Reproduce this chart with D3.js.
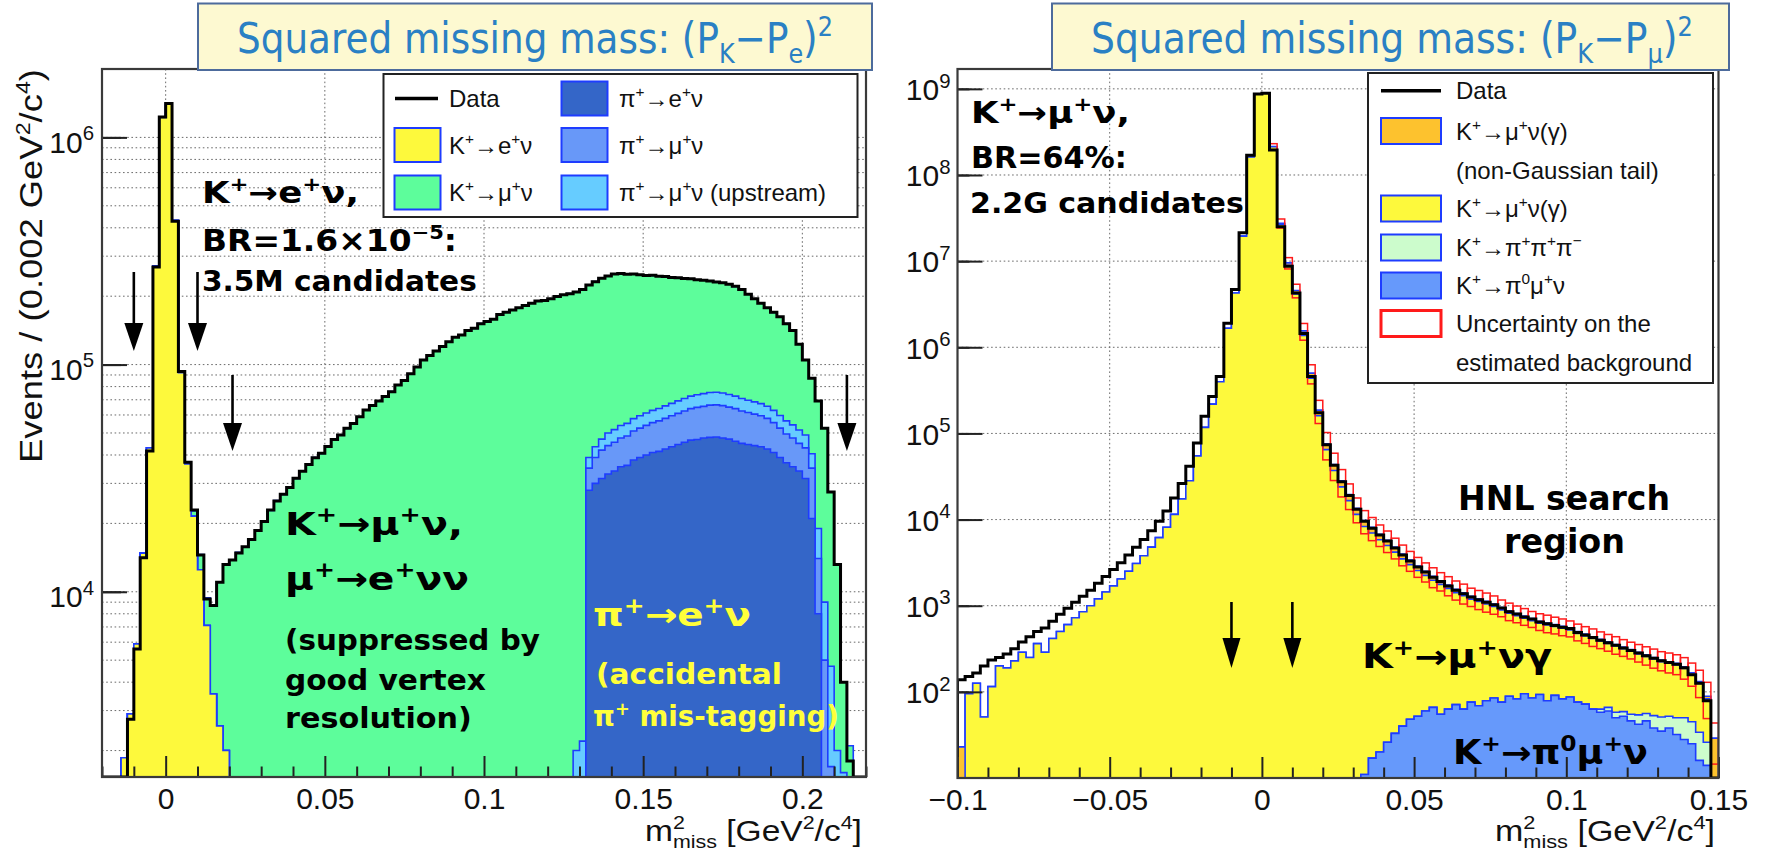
<!DOCTYPE html>
<html>
<head>
<meta charset="utf-8">
<script src="https://cdn.jsdelivr.net/npm/d3@7"></script>
<style>
  html, body { margin: 0; padding: 0; background: #fff; }
  svg { display: block; }
</style>
</head>
<body>
<svg id="chart" width="1770" height="855"></svg>
<script>
// Place values into a full-length bin array, starting at a given bin index.
function binsFrom(n, segments) {
  const a = new Array(n).fill(0);
  segments.forEach(([start, vals]) => vals.forEach((v, k) => { a[start + k] = v; }));
  return a;
}

// ---------------- Left panel: (P_K - P_e)^2, 120 bins of 0.002 from -0.02 ----------------
const eBinLow = -0.02, eBinWidth = 0.002, eBins = 120;

const eData = [
  0, 0, 0, 1260, 2750, 5600, 14100, 41700, 269000, 1230000,
  1410000, 427000, 93300, 37200, 22900, 14500, 9300, 8700, 11000, 13200,
  13800, 14800, 15800, 17000, 18600, 20400, 22900, 25100, 26900, 28800,
  31600, 33900, 36300, 38900, 40700, 43600, 46800, 49000, 52500, 55000,
  58900, 63100, 66100, 69200, 72400, 75900, 81300, 85100, 91200, 97700,
  104700, 109600, 114800, 120200, 125900, 131800, 134900, 141300, 144500, 151400,
  154900, 158500, 166000, 169800, 173800, 177800, 182000, 186200, 190500, 191500,
  195000, 199500, 203000, 205200, 208900, 213800, 223900, 231700, 239900, 245500,
  250500, 251500, 250000, 250500, 248500, 246500, 247000, 245000, 244000, 242000,
  241000, 239500, 238500, 236000, 235000, 233500, 231000, 229000, 226000, 221000,
  213800, 204200, 195000, 186200, 177800, 169800, 162200, 151400, 141300, 123000,
  104700, 87100, 69200, 52500, 27500, 13200, 4000, 1800, 1260, 0
];

// K+ -> e+ nu
const eKe2 = binsFrom(eBins, [[3, [1860, 2900, 5900, 14800, 43000, 272000, 1225000,
  1400000, 430000, 92000, 36500, 21500, 12500, 7100, 3550, 2570, 2000, 900]]]);

// K+ -> mu+ nu
const eKmu2 = binsFrom(eBins, [[13, [300, 1200, 2100, 2300, 5150, 8450, 11200,
  12900, 14900, 15700, 17100, 18500, 20500, 22800, 25200, 26800, 28900,
  31500, 34000, 36200, 39000, 40600, 43700, 46700, 49100, 52400, 55100,
  58800, 63200, 66000, 69300, 72300, 76000, 81200, 85200, 91100, 97800,
  104600, 109700, 114700, 120300, 125800, 131900, 134800, 141400, 144400, 151500,
  154800, 158600, 165900, 169900, 173700, 177900, 181900, 186300, 190400, 191600,
  194900, 199600, 202900, 205300, 206900, 211600, 184900, 188200, 192900, 195500,
  198800, 197600, 194900, 192700, 189000, 185300, 184100, 180900, 178200, 174500,
  171800, 168600, 165900, 162400, 160500, 158200, 155500, 154000, 152200, 148400,
  142900, 134500, 126500, 118900, 112200, 106900, 102500, 94900, 87000, 71500,
  55700, 46600, 50200, 43500, 22800, 11200, 2400, 2100]]]);

// pi+ -> e+ nu
const ePiE = binsFrom(eBins, [[76, [28000, 30000, 31500, 33000, 34000, 35500, 36000, 38000, 39000, 40000,
  41000, 41500, 42500, 43500, 44500, 45500, 46500, 46800, 47500, 47800,
  48000, 47500, 47000, 46000, 45000, 44500, 44000, 43500, 42500, 41000,
  39000, 37000, 35500, 34000, 31500, 21000, 8000]]]);

// pi+ -> mu+ nu
const ePiMu = binsFrom(eBins, [[76, [7000, 9000, 10500, 11000, 11500, 12000, 12500, 13000, 13500, 14000,
  14500, 15000, 15500, 16000, 16500, 17000, 17500, 18000, 18000, 18500,
  18500, 18500, 18000, 18000, 17500, 17000, 16500, 16000, 15500, 14500,
  13500, 12500, 12000, 11000, 11500, 14000, 6000, 5000, 1700]]]);

// pi+ -> mu+ nu (upstream)
const ePiMuUp = binsFrom(eBins, [[74, [2000, 2200, 4000, 4500, 5000, 6000, 6200, 6400, 6600, 6800,
  7000, 7200, 7400, 7600, 7800, 8000, 8200, 8400, 8600, 8800,
  9000, 9000, 9000, 9000, 8800, 8600, 8400, 8200, 8000, 7800,
  7600, 7400, 7200, 7000, 6800, 6500, 6000, 5500, 5000, 4000,
  3000, 2000, 1600]]]);

const eCutsPeak = [-0.01, 0.01];
const eCutsSide = [0.021, 0.214];
const eXTicks = [0, 0.05, 0.1, 0.15, 0.2];
const eYTicks = [1e4, 1e5, 1e6];

// ---------------- Right panel: (P_K - P_mu)^2, 100 bins of 0.0025 from -0.1 ----------------
const mBinLow = -0.1, mBinWidth = 0.0025, mBins = 100;

const mData = [
  138, 151, 166, 200, 234, 251, 275, 316, 380, 437,
  501, 550, 661, 794, 933, 1096, 1288, 1514, 1820, 2188,
  2630, 3162, 3890, 4786, 5888, 7413, 9550, 12590, 17780, 26300,
  41690, 77620, 158500, 269200, 457100, 1905000, 4677000, 21380000, 169800000, 870000000,
  891000000, 195000000, 25120000, 8710000, 4266000, 1445000, 457100, 173800, 74130, 42660,
  27540, 19050, 13180, 9550, 7943, 6607, 5623, 4677, 3890, 3311,
  2818, 2455, 2138, 1905, 1698, 1514, 1380, 1259, 1175, 1096,
  1023, 940, 851, 800, 741, 700, 646, 617, 589, 562,
  545, 490, 457, 427, 398, 372, 347, 324, 302, 282,
  263, 245, 229, 219, 209, 191, 158, 126, 79, 8
];

// K+ -> mu+ nu (gamma)
const mKmu2 = [
  0, 95, 126, 51, 115, 200, 190, 229, 288, 251,
  363, 288, 417, 501, 603, 724, 851, 1000, 1202, 1445,
  1698, 2042, 2512, 3090, 3802, 4786, 6166, 8128, 11480, 17380,
  28180, 54950, 117500, 218800, 398100, 1660000, 4266000, 19500000, 162200000, 870000000,
  891000000, 212800000, 26740000, 8950000, 4171000, 1369000, 436200, 160200, 64860, 37150,
  23980, 16600, 11490, 8311, 6961, 5821, 4968, 4153, 3461, 2950,
  2512, 2192, 1907, 1715, 1525, 1348, 1240, 1117, 1048, 968,
  894, 819, 728, 682, 620, 583, 532, 519, 482, 464,
  437, 402, 375, 355, 326, 298, 282, 258, 241, 222,
  202, 188, 173, 163, 155, 137, 113, 91, 57, 0
];

// K+ -> mu+ nu (gamma), non-Gaussian tail
const mKmu2Tail = binsFrom(mBins, [[0, [23]], [41, [1000000, 800000, 600000, 400000, 180000, 65000, 26000, 11000, 6500, 4200,
  2900, 2000, 1450, 1150, 920, 760, 600, 480, 390, 320,
  260, 215, 180, 150, 130, 110, 95, 85, 75, 68,
  60, 54, 48, 44, 40, 36, 33, 30, 28, 26,
  23, 21, 19, 18, 16, 15, 14, 13, 12, 11,
  10, 10, 9, 9, 8, 8, 7, 6, 29]]]);

// K+ -> pi+ pi+ pi-
const mK3pi = binsFrom(mBins, [[84, [5, 6, 8, 7, 9, 12, 10, 15, 16, 14, 18, 22, 20, 18, 12]]]);

// K+ -> pi0 mu+ nu
const mKmu3 = binsFrom(mBins, [[53, [11, 17, 20, 26, 33, 40, 48, 52, 60, 66,
  55, 63, 71, 63, 76, 69, 79, 85, 76, 89,
  83, 95, 85, 93, 79, 91, 83, 87, 76, 72,
  63, 58, 60, 50, 52, 46, 42, 46, 38, 35,
  38, 32, 28, 25, 16, 14]]]);

// relative uncertainty on the estimated background
const mBkgUncert = binsFrom(mBins, [[41, [0.08, 0.12, 0.15, 0.18, 0.22, 0.25, 0.30, 0.35, 0.35, 0.35,
  0.33, 0.32, 0.30, 0.30, 0.28, 0.28, 0.27, 0.27, 0.26, 0.26,
  0.25, 0.26, 0.24, 0.25, 0.25, 0.26, 0.24, 0.25, 0.25, 0.24,
  0.22, 0.23, 0.22, 0.22, 0.21, 0.22, 0.23, 0.22, 0.22, 0.21,
  0.22, 0.22, 0.23, 0.22, 0.22, 0.23, 0.22, 0.22, 0.23, 0.24,
  0.25, 0.25, 0.26, 0.26, 0.28, 0.30, 0.35, 0.45, 0.5]]]);

const mCuts = [-0.01, 0.01];
const mXTicks = [-0.1, -0.05, 0, 0.05, 0.1, 0.15];
const mYTicks = [1e2, 1e3, 1e4, 1e5, 1e6, 1e7, 1e8, 1e9];

// ---------------- styling ----------------
const COL = {
  yellow: '#fdf93c', green: '#5dfd9b', piE: '#3466c8', piMu: '#6898f8', piMuUp: '#66ccff',
  orange: '#fdc22e', k3pi: '#ccfccc', kmu3: '#6699fb', edge: '#1e3cff', band: '#ff1a1a'
};
const TICK_FONT = "'Liberation Sans', Arial, Helvetica, sans-serif";
const SLIDE_FONT = "'DejaVu Sans Condensed', 'DejaVu Sans', sans-serif";

const svg = d3.select('#chart');

// Text with ^{..} superscripts and _{..} subscripts (a subscript right after a superscript is stacked under it).
function richText(sel, src, fs) {
  const parts = src.split(/(\^\{[^}]*\}|_\{[^}]*\})/).filter(s => s.length);
  let shift = 0, prevSup = null;
  parts.forEach(p => {
    let txt = p, off = 0, kind = 'n';
    if (p.startsWith('^{')) { txt = p.slice(2, -1); off = -0.40 * fs; kind = 'sup'; }
    else if (p.startsWith('_{')) { txt = p.slice(2, -1); off = 0.24 * fs; kind = 'sub'; }
    const t = sel.append('tspan').text(txt).attr('dy', off - shift);
    if (kind !== 'n') t.attr('font-size', 0.64 * fs);
    if (kind === 'sub' && prevSup) t.attr('dx', -prevSup.node().getComputedTextLength());
    prevSup = kind === 'sup' ? t : null;
    shift = off;
  });
}

// Text stretched to a given width; (x, y) is the left end of the baseline.
function fittedText(parent, src, o) {
  const g = parent.append('g');
  const t = g.append('text')
    .attr('font-size', o.size).attr('font-family', o.family || SLIDE_FONT)
    .attr('font-weight', o.weight || 'normal').attr('fill', o.fill || '#000');
  richText(t, src, o.size);
  const bb = t.node().getBBox();
  const s = o.width / bb.width;
  const rot = o.rotate ? ` rotate(${o.rotate})` : '';
  g.attr('transform', `translate(${o.x},${o.y})${rot} scale(${s},1) translate(${-bb.x},0)`);
  return g;
}

function stepPath(vals, x, y, lo, w) {
  const yb = y.range()[0], yt = y.range()[1], vmin = y.domain()[0];
  const yv = v => (v > vmin ? Math.max(yt, y(v)) : yb);
  let d = `M${x(lo)},${yb}`;
  vals.forEach((v, i) => {
    const yy = yv(v);
    d += `L${x(lo + i * w)},${yy}L${x(lo + (i + 1) * w)},${yy}`;
  });
  return d + `L${x(lo + vals.length * w)},${yb}`;
}

function logTicks(domain, minor) {
  const out = [];
  for (let e = Math.floor(Math.log10(domain[0])); e <= Math.ceil(Math.log10(domain[1])); e++) {
    for (let m = 1; m <= 9; m++) {
      if (minor ? m === 1 : m !== 1) continue;
      const v = m * Math.pow(10, e);
      if (v > domain[0] * 1.0001 && v < domain[1]) out.push(v);
    }
  }
  return out;
}

function arrow(g, xp, yTop, yBot, hw, hh) {
  g.append('line').attr('x1', xp).attr('x2', xp).attr('y1', yTop).attr('y2', yBot - hh + 2)
    .attr('stroke', '#000').attr('stroke-width', 2.6);
  g.append('path').attr('d', `M${xp - hw / 2},${yBot - hh}L${xp + hw / 2},${yBot - hh}L${xp},${yBot}Z`)
    .attr('fill', '#000');
}

function drawPanel(cfg) {
  const { x0, x1, y0, y1 } = cfg.frame;
  const x = d3.scaleLinear().domain(cfg.xDomain).range([x0, x1]);
  const y = d3.scaleLog().domain(cfg.yDomain).range([y1, y0]);
  const g = svg.append('g');

  const clipId = cfg.id + '-clip';
  svg.append('clipPath').attr('id', clipId).append('rect')
    .attr('x', x0).attr('y', y0).attr('width', x1 - x0).attr('height', y1 - y0 + 1);

  // dotted grid
  const grid = g.append('g').attr('stroke', '#6a6a6a').attr('stroke-width', 1).attr('stroke-dasharray', '1.6,2.6');
  cfg.xGrid.forEach(v => grid.append('line').attr('x1', x(v)).attr('x2', x(v)).attr('y1', y0).attr('y2', y1));
  cfg.yGrid.forEach(v => grid.append('line').attr('x1', x0).attr('x2', x1).attr('y1', y(v)).attr('y2', y(v)));

  // stacked histograms: each cumulative sum filled, drawn from the top of the stack down
  const plot = g.append('g').attr('clip-path', `url(#${clipId})`);
  const cum = [];
  cfg.stack.forEach((c, k) => {
    cum.push(c.values.map((v, i) => v + (k ? cum[k - 1][i] : 0)));
  });
  for (let k = cfg.stack.length - 1; k >= 0; k--) {
    plot.append('path').attr('d', stepPath(cum[k], x, y, cfg.binLow, cfg.binWidth) + 'Z')
      .attr('fill', cfg.stack[k].color).attr('stroke', COL.edge).attr('stroke-width', 1.6)
      .attr('stroke-linejoin', 'miter');
  }
  const total = cum[cum.length - 1];

  // background uncertainty boxes
  if (cfg.uncert) {
    const ub = plot.append('g').attr('fill', 'none').attr('stroke', COL.band).attr('stroke-width', 1.5);
    cfg.uncert.forEach((u, i) => {
      if (!(u > 0) || !(total[i] > 0)) return;
      const lo = Math.max(total[i] * (1 - u), cfg.yDomain[0]);
      const hi = total[i] * (1 + u);
      const xa = x(cfg.binLow + i * cfg.binWidth), xb = x(cfg.binLow + (i + 1) * cfg.binWidth);
      ub.append('rect').attr('x', xa).attr('y', y(hi)).attr('width', xb - xa).attr('height', y(lo) - y(hi));
    });
  }

  // data
  plot.append('path').attr('d', stepPath(cfg.data, x, y, cfg.binLow, cfg.binWidth))
    .attr('fill', 'none').attr('stroke', '#000').attr('stroke-width', 3).attr('stroke-linejoin', 'miter');

  // axes
  const axStyle = s => {
    s.select('.domain').remove();
    s.selectAll('.tick line').attr('stroke', '#222').attr('stroke-width', 2);
    s.attr('font-family', TICK_FONT).attr('font-size', cfg.tickFont);
    s.selectAll('.tick text').attr('fill', '#111');
  };
  const xMinor = d3.range(Math.round(cfg.xDomain[0] * 100), Math.round(cfg.xDomain[1] * 100) + 1)
    .map(k => k / 100).filter(v => !cfg.xTicks.some(t => Math.abs(t - v) < 1e-9));
  g.append('g').attr('transform', `translate(0,${y1})`)
    .call(d3.axisBottom(x).tickValues(xMinor).tickSize(-10.5).tickFormat(''))
    .call(axStyle);
  g.append('g').attr('transform', `translate(0,${y1})`)
    .call(d3.axisBottom(x).tickValues(cfg.xTicks).tickSize(-21).tickPadding(11)
      .tickFormat(d => (d === 0 ? '0' : (d < 0 ? '\u2212' : '') + String(Math.abs(d)))))
    .call(axStyle);
  g.append('g').attr('transform', `translate(${x0},0)`)
    .call(d3.axisLeft(y).tickValues(logTicks(cfg.yDomain, false)).tickSize(-cfg.yMinorLen).tickFormat(''))
    .call(axStyle);
  const gy = g.append('g').attr('transform', `translate(${x0},0)`)
    .call(d3.axisLeft(y).tickValues(cfg.yTicks).tickSize(-25).tickPadding(cfg.yPad).tickFormat(''))
    .call(axStyle);
  gy.selectAll('.tick text').attr('dy', cfg.yLabelDy).each(function (d) {
    const t = d3.select(this);
    t.append('tspan').text('10');
    t.append('tspan').attr('dy', -0.42 * cfg.tickFont).attr('font-size', 0.68 * cfg.tickFont)
      .text(Math.round(Math.log10(d)));
  });

  // frame
  g.append('rect').attr('x', x0).attr('y', y0).attr('width', x1 - x0).attr('height', y1 - y0)
    .attr('fill', 'none').attr('stroke', '#3a3a3a').attr('stroke-width', 2.2);

  return { g, x, y };
}

// ---------------- left panel ----------------
const L = drawPanel({
  id: 'pe', frame: { x0: 102, x1: 866, y0: 69, y1: 777 },
  xDomain: [-0.02, 0.22], yDomain: [1530, 2.0e6],
  binLow: eBinLow, binWidth: eBinWidth, data: eData,
  stack: [
    { values: eKe2, color: COL.yellow },
    { values: ePiE, color: COL.piE },
    { values: ePiMu, color: COL.piMu },
    { values: ePiMuUp, color: COL.piMuUp },
    { values: eKmu2, color: COL.green }
  ],
  xTicks: eXTicks, yTicks: eYTicks, tickFont: 30, yPad: 8, yLabelDy: '0.5em', yMinorLen: 19,
  xGrid: eXTicks, yGrid: logTicks([1530, 2.0e6], true).concat(logTicks([1530, 2.0e6], false))
});

eCutsPeak.forEach(c => arrow(L.g, L.x(c), 272, 351, 19, 28));
eCutsSide.forEach(c => arrow(L.g, L.x(c), 375, 451, 19, 28));

// legend
(function () {
  const g = L.g.append('g');
  g.append('rect').attr('x', 383.5).attr('y', 74).attr('width', 474).attr('height', 143)
    .attr('fill', '#fff').attr('stroke', '#222').attr('stroke-width', 2);
  const rows = [98.5, 145, 192.5];
  g.append('line').attr('x1', 395).attr('x2', 438).attr('y1', rows[0]).attr('y2', rows[0])
    .attr('stroke', '#000').attr('stroke-width', 3.5);
  const entries = [
    { col: 0, row: 0, label: 'Data' },
    { col: 0, row: 1, label: 'K^{+}→e^{+}ν', color: COL.yellow },
    { col: 0, row: 2, label: 'K^{+}→μ^{+}ν', color: COL.green },
    { col: 1, row: 0, label: 'π^{+}→e^{+}ν', color: COL.piE },
    { col: 1, row: 1, label: 'π^{+}→μ^{+}ν', color: COL.piMu },
    { col: 1, row: 2, label: 'π^{+}→μ^{+}ν (upstream)', color: COL.piMuUp }
  ];
  const sx = [394.5, 561.5], tx = [449, 619];
  entries.forEach(e => {
    if (e.color) {
      g.append('rect').attr('x', sx[e.col]).attr('y', rows[e.row] - 17).attr('width', 46).attr('height', 34)
        .attr('fill', e.color).attr('stroke', COL.edge).attr('stroke-width', 2);
    }
    const t = g.append('text').attr('x', tx[e.col]).attr('y', rows[e.row] + 8.5)
      .attr('font-family', TICK_FONT).attr('font-size', 24).attr('fill', '#111');
    richText(t, e.label, 24);
  });
})();

// annotations
[
  ['K^{+}→e^{+}ν,', 202, 203, 157, 30, '#000'],
  ['BR=1.6×10^{−5}:', 202, 251, 255, 30, '#000'],
  ['3.5M candidates', 202, 291, 275, 28, '#000'],
  ['K^{+}→μ^{+}ν,', 285, 535, 178, 32, '#000'],
  ['μ^{+}→e^{+}νν', 285, 590, 184, 32, '#000'],
  ['(suppressed by', 285, 650, 255, 28, '#000'],
  ['good vertex', 285, 690, 201, 28, '#000'],
  ['resolution)', 285, 728, 187, 28, '#000'],
  ['π^{+}→e^{+}ν', 593, 626, 158, 32, '#ffff3a'],
  ['(accidental', 596, 684, 186, 28, '#ffff3a'],
  ['π^{+} mis-tagging)', 593, 726, 246, 28, '#ffff3a']
].forEach(([s, x, y, w, fs, c]) => fittedText(L.g, s, { x, y, width: w, size: fs, weight: 'bold', fill: c }));

// axis titles
fittedText(svg, 'Events / (0.002 GeV^{2}/c^{4})', { x: 42, y: 463, width: 394, size: 31, family: TICK_FONT, fill: '#111', rotate: -90 });
fittedText(svg, 'm^{2}_{miss} [GeV^{2}/c^{4}]', { x: 645, y: 841, width: 217, size: 30, family: TICK_FONT, fill: '#111' });

// ---------------- right panel ----------------
const R = drawPanel({
  id: 'pmu', frame: { x0: 957.5, x1: 1718.5, y0: 69, y1: 778 },
  xDomain: [-0.1, 0.15], yDomain: [10, 1.7e9],
  binLow: mBinLow, binWidth: mBinWidth, data: mData,
  stack: [
    { values: mKmu3, color: COL.kmu3 },
    { values: mK3pi, color: COL.k3pi },
    { values: mKmu2, color: COL.yellow },
    { values: mKmu2Tail, color: COL.orange }
  ],
  uncert: mBkgUncert,
  xTicks: mXTicks, yTicks: mYTicks, tickFont: 30, yPad: 7, yLabelDy: '0.36em', yMinorLen: 12,
  xGrid: mXTicks.slice(1, -1), yGrid: mYTicks
});

mCuts.forEach(c => arrow(R.g, R.x(c), 602, 668, 18, 30));

(function () {
  const g = R.g.append('g');
  g.append('rect').attr('x', 1368).attr('y', 73).attr('width', 345).attr('height', 310)
    .attr('fill', '#fff').attr('stroke', '#222').attr('stroke-width', 2);
  g.append('line').attr('x1', 1381).attr('x2', 1441).attr('y1', 90.7).attr('y2', 90.7)
    .attr('stroke', '#000').attr('stroke-width', 3.5);
  const entries = [
    { y: 90.7, label: 'Data' },
    { y: 131, label: 'K^{+}→μ^{+}ν(γ)', color: COL.orange },
    { y: 170, label: '(non-Gaussian tail)' },
    { y: 208.5, label: 'K^{+}→μ^{+}ν(γ)', color: COL.yellow },
    { y: 247.5, label: 'K^{+}→π^{+}π^{+}π^{−}', color: COL.k3pi },
    { y: 285.5, label: 'K^{+}→π^{0}μ^{+}ν', color: COL.kmu3 },
    { y: 323.5, label: 'Uncertainty on the', band: true },
    { y: 362, label: 'estimated background' }
  ];
  entries.forEach(e => {
    if (e.color) {
      g.append('rect').attr('x', 1381).attr('y', e.y - 13).attr('width', 60).attr('height', 26)
        .attr('fill', e.color).attr('stroke', COL.edge).attr('stroke-width', 2);
    }
    if (e.band) {
      g.append('rect').attr('x', 1381).attr('y', e.y - 13).attr('width', 60).attr('height', 26)
        .attr('fill', '#fff').attr('stroke', COL.band).attr('stroke-width', 3);
    }
    const t = g.append('text').attr('x', 1456).attr('y', e.y + 8.5)
      .attr('font-family', TICK_FONT).attr('font-size', 24).attr('fill', '#111');
    richText(t, e.label, 24);
  });
})();

[
  ['K^{+}→μ^{+}ν,', 971, 123, 159, 30],
  ['BR=64%:', 971, 168, 156, 30],
  ['2.2G candidates', 970, 213, 274, 28],
  ['HNL search', 1458, 510, 212, 33],
  ['region', 1504, 553, 121, 33],
  ['K^{+}→μ^{+}νγ', 1362, 668, 190, 33],
  ['K^{+}→π^{0}μ^{+}ν', 1453, 764, 195, 33]
].forEach(([s, x, y, w, fs]) => fittedText(R.g, s, { x, y, width: w, size: fs, weight: 'bold', fill: '#000' }));

fittedText(svg, 'm^{2}_{miss} [GeV^{2}/c^{4}]', { x: 1495, y: 841, width: 220, size: 30, family: TICK_FONT, fill: '#111' });

// ---------------- title boxes ----------------
[
  { x0: 198, x1: 872, text: 'Squared missing mass: (P_{K}−P_{e})^{2}', tx: 237, tw: 596 },
  { x0: 1052, x1: 1729, text: 'Squared missing mass: (P_{K}−P_{μ})^{2}', tx: 1091, tw: 602 }
].forEach(b => {
  svg.append('rect').attr('x', b.x0).attr('y', 3.5).attr('width', b.x1 - b.x0).attr('height', 66.5)
    .attr('fill', '#fdf9d1').attr('stroke', '#4d6b9c').attr('stroke-width', 2);
  fittedText(svg, b.text, { x: b.tx, y: 53, width: b.tw, size: 42, fill: '#2a80c4' });
});
</script>
</body>
</html>
